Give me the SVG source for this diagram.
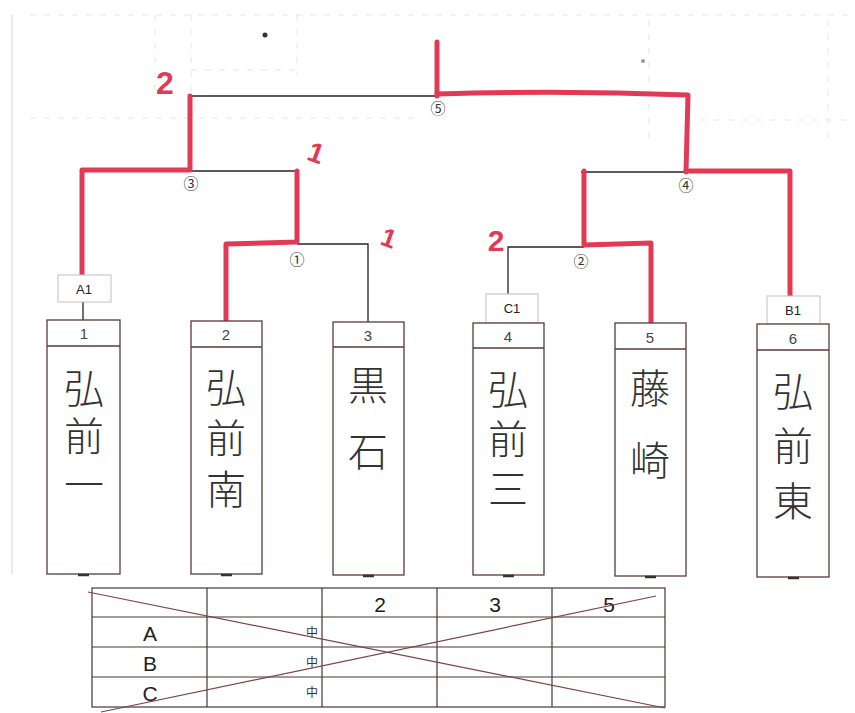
<svg xmlns="http://www.w3.org/2000/svg" width="855" height="713" viewBox="0 0 855 713">
<style>
.grid{stroke:#e8e4e4;stroke-width:1;fill:none;stroke-dasharray:6 8}
.blk{stroke:#2a2222;stroke-width:1.3;fill:none}
.red{stroke:#e23a55;stroke-width:5;fill:none;stroke-linecap:round;stroke-linejoin:round}
.box{fill:#fff;stroke:#5a3a3a;stroke-width:1.3}
.lbl{fill:#fff;stroke:#c8bcbc;stroke-width:1}
.num{font-family:"Liberation Sans",sans-serif;font-size:15px;fill:#444;text-anchor:middle}
.lt{font-family:"Liberation Sans",sans-serif;font-size:13px;fill:#222;text-anchor:middle}
.name{font-family:"Noto Sans CJK JP",sans-serif;font-weight:300;font-size:40px;fill:#333;writing-mode:vertical-rl;text-anchor:start}
.circ{font-family:"Noto Sans CJK JP",sans-serif;font-size:15px;fill:#333;text-anchor:middle;dominant-baseline:central}
.score{font-family:"Liberation Sans",sans-serif;font-weight:bold;fill:#e23a55;text-anchor:middle;dominant-baseline:central}
.tl{stroke:#4a3434;stroke-width:1.2;fill:none}
.tt{font-family:"Liberation Sans",sans-serif;font-size:21px;fill:#222;text-anchor:middle}
.zh{font-family:"Noto Sans CJK JP",sans-serif;font-size:12px;fill:#333;text-anchor:middle}
.tick{stroke:#333;stroke-width:2.5}
</style>
<rect width="855" height="713" fill="#ffffff"/>
<g id="background">
<line x1="12" y1="15" x2="12" y2="575" stroke="#ddd4d4" stroke-width="1"/>
<line class="grid" x1="30" y1="15" x2="855" y2="15"/>
<line class="grid" x1="155" y1="15" x2="155" y2="90"/>
<line class="grid" x1="191" y1="15" x2="191" y2="95"/>
<line class="grid" x1="297" y1="15" x2="297" y2="75"/>
<line class="grid" x1="191" y1="70" x2="297" y2="70"/>
<line class="grid" x1="30" y1="118" x2="420" y2="118"/>
<line class="grid" x1="649" y1="20" x2="649" y2="140"/>
<line class="grid" x1="828" y1="20" x2="828" y2="140"/>
<line class="grid" x1="700" y1="120" x2="855" y2="120"/>
<circle cx="265" cy="35" r="2.5" fill="#333"/>
<circle cx="643" cy="61" r="2" fill="#999"/>
</g>
<g id="connectors">
<path class="blk" d="M190 96 L437 96"/>
<path class="blk" d="M190 171 L297 171"/>
<path class="blk" d="M297 244 L368 244 L368 322"/>
<path class="blk" d="M581 172 L686 172"/>
<path class="blk" d="M508 294 L508 247 L584 247"/>
<path class="blk" d="M83 302 L83 320"/>
<path class="red" d="M226 321 L226 244 L297 242 L297 171"/>
<path class="red" d="M82 274 L82 170 L190 170 L190 96"/>
<path class="red" d="M437 42 L437 96"/>
<path class="red" d="M437 94 Q560 90 688 95 L686 172"/>
<path class="red" d="M686 171 L790 171 L790 296"/>
<path class="red" d="M584 171 L584 245 L651 243 L651 323"/>
</g>
<g id="match-marks">
<text class="circ" x="297" y="258">①</text>
<text class="circ" x="581" y="260">②</text>
<text class="circ" x="191" y="182">③</text>
<text class="circ" x="686" y="184">④</text>
<text class="circ" x="438" y="107">⑤</text>
</g>
<g id="scores">
<text class="score" x="165" y="83" font-size="32">2</text>
<text class="score" x="316" y="153" font-size="28" transform="rotate(20 316 153)">1</text>
<text class="score" x="389" y="238" font-size="26" transform="rotate(20 389 238)">1</text>
<text class="score" x="496" y="240" font-size="30">2</text>
</g>
<g id="seed-A1"><rect class="lbl" x="58" y="275" width="53" height="27"/><text class="lt" x="84" y="294">A1</text></g>
<g id="seed-C1"><rect class="lbl" x="486" y="294" width="52" height="29"/><text class="lt" x="512" y="313">C1</text></g>
<g id="seed-B1"><rect class="lbl" x="767" y="296" width="53" height="28"/><text class="lt" x="793" y="315">B1</text></g>
<g id="team1">
<rect class="box" x="47" y="320" width="73" height="254"/><line class="box" x1="47" y1="346" x2="120" y2="346"/>
<text class="num" x="84" y="339">1</text>
<text class="name" x="84" y="368" letter-spacing="8">弘前一</text>
<line class="tick" x1="78" y1="575" x2="89" y2="575"/>
</g>
<g id="team2">
<rect class="box" x="191" y="321" width="71" height="253"/><line class="box" x1="191" y1="347" x2="262" y2="347"/>
<text class="num" x="226" y="340">2</text>
<text class="name" x="226" y="367" letter-spacing="11">弘前南</text>
<line class="tick" x1="221" y1="575" x2="232" y2="575"/>
</g>
<g id="team3">
<rect class="box" x="333" y="322" width="71" height="253"/><line class="box" x1="333" y1="347" x2="404" y2="347"/>
<text class="num" x="368" y="341">3</text>
<text class="name" x="368" y="365" letter-spacing="26">黒石</text>
<line class="tick" x1="363" y1="576" x2="374" y2="576"/>
</g>
<g id="team4">
<rect class="box" x="473" y="323" width="71" height="252"/><line class="box" x1="473" y1="348" x2="544" y2="348"/>
<text class="num" x="508" y="342">4</text>
<text class="name" x="508" y="369" letter-spacing="10">弘前三</text>
<line class="tick" x1="503" y1="576" x2="514" y2="576"/>
</g>
<g id="team5">
<rect class="box" x="615" y="323" width="71" height="253"/><line class="box" x1="615" y1="349" x2="686" y2="349"/>
<text class="num" x="650" y="343">5</text>
<text class="name" x="650" y="368" letter-spacing="32">藤崎</text>
<line class="tick" x1="645" y1="577" x2="656" y2="577"/>
</g>
<g id="team6">
<rect class="box" x="757" y="324" width="72" height="253"/><line class="box" x1="757" y1="350" x2="829" y2="350"/>
<text class="num" x="793" y="344">6</text>
<text class="name" x="793" y="371" letter-spacing="15">弘前東</text>
<line class="tick" x1="788" y1="578" x2="799" y2="578"/>
</g>
<g id="table">
<rect class="tl" x="92" y="588" width="573" height="119" fill="#fff"/>
<line class="tl" x1="207" y1="588" x2="207" y2="707"/>
<line class="tl" x1="322" y1="588" x2="322" y2="707"/>
<line class="tl" x1="437" y1="588" x2="437" y2="707"/>
<line class="tl" x1="552" y1="588" x2="552" y2="707"/>
<line class="tl" x1="92" y1="617" x2="665" y2="617"/>
<line class="tl" x1="92" y1="647" x2="665" y2="647"/>
<line class="tl" x1="92" y1="677" x2="665" y2="677"/>
<text class="tt" x="380" y="612">2</text>
<text class="tt" x="495" y="612">3</text>
<text class="tt" x="609" y="612">5</text>
<text class="tt" x="150" y="641">A</text>
<text class="tt" x="150" y="671">B</text>
<text class="tt" x="150" y="701">C</text>
<text class="zh" x="312" y="637">中</text>
<text class="zh" x="312" y="667">中</text>
<text class="zh" x="312" y="697">中</text>
<line x1="88" y1="592" x2="665" y2="708" stroke="#7a4545" stroke-width="1.2"/>
<line x1="101" y1="712" x2="656" y2="596" stroke="#7a4545" stroke-width="1.2"/>
</g>
</svg>
